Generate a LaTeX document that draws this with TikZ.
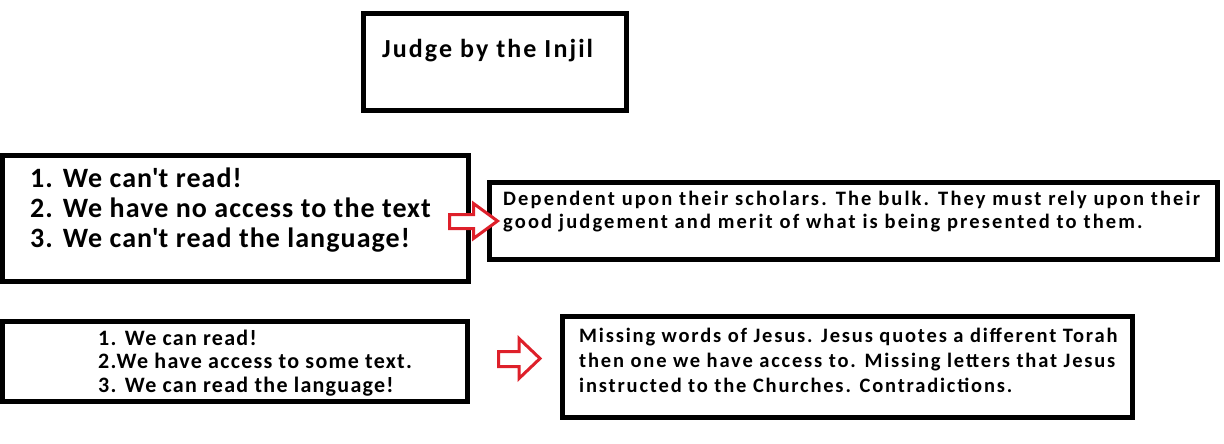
\documentclass[tikz,border=0pt]{standalone}
\usepackage{fontspec}
\setmainfont{Carlito}
\definecolor{arrowred}{RGB}{222,32,42}
\newcommand{\apos}{\textquotesingle}
\begin{document}
\begin{tikzpicture}[x=1pt,y=-1pt,
  frame/.style={draw=black, line width=5pt, rectangle, inner sep=0pt},
  txt/.style={anchor=base west, inner sep=0pt, font=\bfseries},
  blockarrow/.style={draw=arrowred, line width=3pt, fill=white, line join=miter}]
\useasboundingbox (0,0) rectangle (1224,444);
\fill[white] (0,0) rectangle (1224,444);

% boxes
\node[frame, minimum width=263pt, minimum height=97pt] (titlebox) at (495,62) {};
\node[frame, minimum width=466pt, minimum height=126pt] (cantbox) at (235.5,218.5) {};
\node[frame, minimum width=728pt, minimum height=77pt] (scholbox) at (853.5,221) {};
\node[frame, minimum width=465pt, minimum height=80pt] (canbox) at (235,361.5) {};
\node[frame, minimum width=570pt, minimum height=101pt] (missbox) at (847.5,367) {};

% texts
\node[txt, font=\bfseries\fontsize{26}{30}\selectfont\addfontfeature{LetterSpace=8}] (title) at (382,58) {Judge by the Injil};

\node[txt, font=\bfseries\fontsize{28}{32}\selectfont\addfontfeature{LetterSpace=3.8}] (c1) at (30,187) {1. We can\apos t read!};
\node[txt, font=\bfseries\fontsize{28}{32}\selectfont\addfontfeature{LetterSpace=3.8}] (c2) at (30,217) {2. We have no access to the text};
\node[txt, font=\bfseries\fontsize{28}{32}\selectfont\addfontfeature{LetterSpace=3.8}] (c3) at (30,247) {3. We can\apos t read the language!};

\node[txt, font=\bfseries\fontsize{20.5}{22}\selectfont\addfontfeature{LetterSpace=10.4}] (s1) at (503,205) {Dependent upon their scholars. The bulk. They must rely upon their};
\node[txt, font=\bfseries\fontsize{20.5}{22}\selectfont\addfontfeature{LetterSpace=10.4}] (s2) at (503,228) {good judgement and merit of what is being presented to them.};

\node[txt, font=\bfseries\fontsize{22}{24}\selectfont\addfontfeature{LetterSpace=5.8}] (r1) at (98,345) {1. We can read!};
\node[txt, font=\bfseries\fontsize{22}{24}\selectfont\addfontfeature{LetterSpace=5.8}] (r2) at (98,368) {2.We have access to some text.};
\node[txt, font=\bfseries\fontsize{22}{24}\selectfont\addfontfeature{LetterSpace=5.8}] (r3) at (98,392) {3. We can read the language!};

\node[txt, font=\bfseries\fontsize{20.5}{22}\selectfont\addfontfeature{LetterSpace=8.9}] (m1) at (579,342) {Missing words of Jesus. Jesus quotes a different Torah};
\node[txt, font=\bfseries\fontsize{20.5}{22}\selectfont\addfontfeature{LetterSpace=8.9}] (m2) at (579,367) {then one we have access to. Missing letters that Jesus};
\node[txt, font=\bfseries\fontsize{20.5}{22}\selectfont\addfontfeature{LetterSpace=8.9}] (m3) at (579,392) {instructed to the Churches. Contradictions.};

% block arrows
\draw[blockarrow] (449.5,214.5) -- (473.5,214.5) -- (473.5,203.5) -- (497.5,221) -- (473.5,238.5) -- (473.5,228.5) -- (449.5,228.5) -- cycle;
\draw[blockarrow] (498.5,351.5) -- (519,351.5) -- (519,338.5) -- (540,358.5) -- (519,378.5) -- (519,366.5) -- (498.5,366.5) -- cycle;
\end{tikzpicture}
\end{document}
